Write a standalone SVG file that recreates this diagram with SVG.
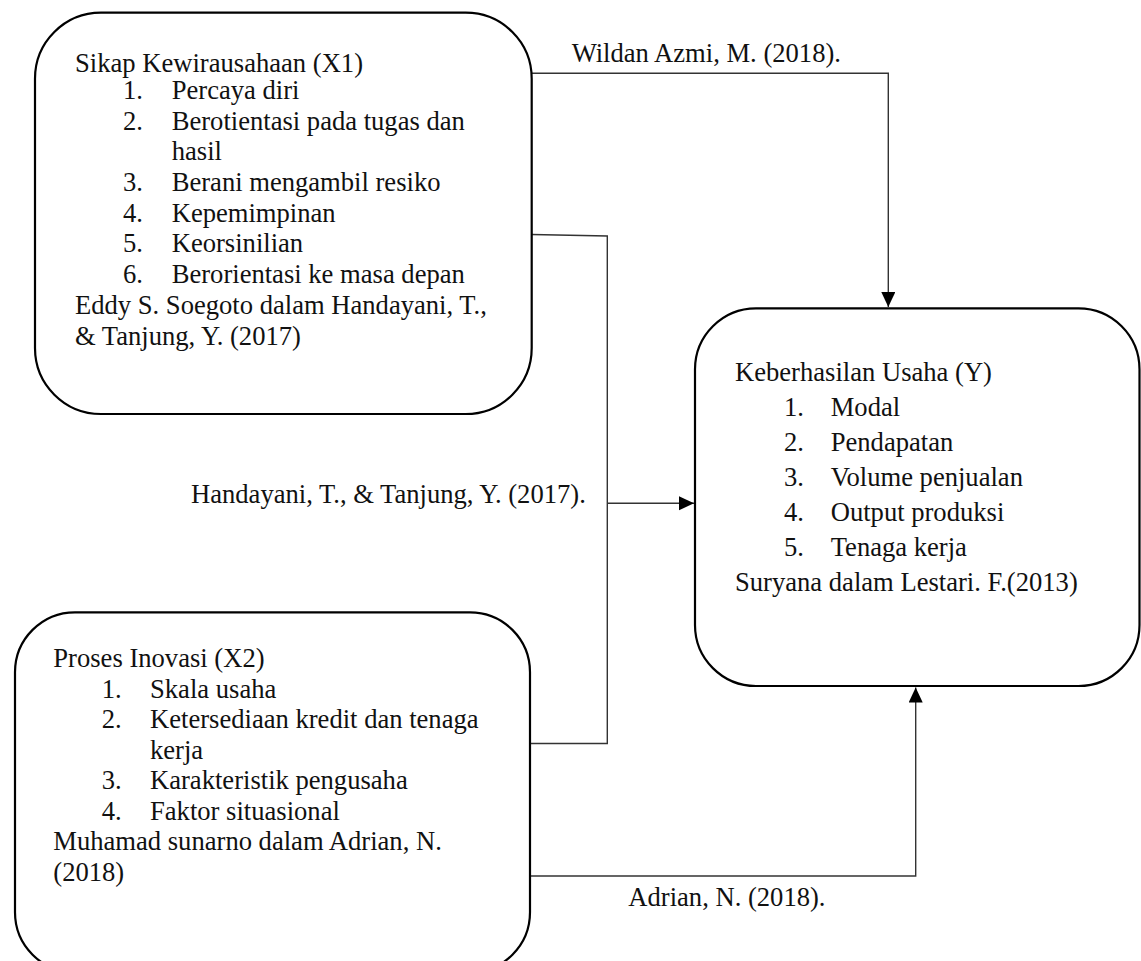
<svg xmlns="http://www.w3.org/2000/svg" width="1141" height="961" viewBox="0 0 1141 961">
<style>
  .box { fill: #ffffff; stroke: #000000; stroke-width: 2.2; }
  .t { font-family: "Liberation Serif", "Times New Roman", serif; font-size: 26.6px; fill: #111111; }
  .conn { fill: none; stroke: #333333; stroke-width: 1.4; }
</style>
<defs>
  <marker id="arr" markerUnits="userSpaceOnUse" markerWidth="16" markerHeight="15" refX="15" refY="7" orient="auto">
    <path d="M0,0 L15,7 L0,14 Z" fill="#000000"/>
  </marker>
</defs>
<rect x="0" y="0" width="1141" height="961" fill="#ffffff"/>

<g id="connectors">
  <path class="conn" d="M531.7,73.3 H888.3 V307" marker-end="url(#arr)"/>
  <path class="conn" d="M531.7,234.5 L607.3,236 V743.5 H530"/>
  <path class="conn" d="M607.3,503.3 H694" marker-end="url(#arr)"/>
  <path class="conn" d="M530,876 H915.7 V687.5" marker-end="url(#arr)"/>
  <text class="t" x="571.7" y="61.7">Wildan Azmi, M. (2018).</text>
  <text class="t" x="191" y="503">Handayani, T., &amp; Tanjung, Y. (2017).</text>
  <text class="t" x="628.3" y="905.7">Adrian, N. (2018).</text>
</g>

<g id="node-x1">
  <rect class="box" x="35" y="12.7" width="496.7" height="401.3" rx="66" ry="66"/>
  <text class="t" x="75" y="72">Sikap Kewirausahaan (X1)</text>
  <text class="t" x="123" y="99">1.</text><text class="t" x="171.7" y="99">Percaya diri</text>
  <text class="t" x="123" y="129.6">2.</text><text class="t" x="171.7" y="129.6">Berotientasi pada tugas dan</text>
  <text class="t" x="171.7" y="160.3">hasil</text>
  <text class="t" x="123" y="191">3.</text><text class="t" x="171.7" y="191">Berani mengambil resiko</text>
  <text class="t" x="123" y="221.7">4.</text><text class="t" x="171.7" y="221.7">Kepemimpinan</text>
  <text class="t" x="123" y="252.4">5.</text><text class="t" x="171.7" y="252.4">Keorsinilian</text>
  <text class="t" x="123" y="283.1">6.</text><text class="t" x="171.7" y="283.1">Berorientasi ke masa depan</text>
  <text class="t" x="75" y="313.8">Eddy S. Soegoto dalam Handayani, T.,</text>
  <text class="t" x="75" y="344.5">&amp; Tanjung, Y. (2017)</text>
</g>

<g id="node-x2">
  <rect class="box" x="15" y="612.3" width="515" height="360" rx="60" ry="60"/>
  <text class="t" x="53.3" y="667">Proses Inovasi (X2)</text>
  <text class="t" x="101.7" y="697.5">1.</text><text class="t" x="150" y="697.5">Skala usaha</text>
  <text class="t" x="101.7" y="728">2.</text><text class="t" x="150" y="728">Ketersediaan kredit dan tenaga</text>
  <text class="t" x="150" y="758.5">kerja</text>
  <text class="t" x="101.7" y="789">3.</text><text class="t" x="150" y="789">Karakteristik pengusaha</text>
  <text class="t" x="101.7" y="819.5">4.</text><text class="t" x="150" y="819.5">Faktor situasional</text>
  <text class="t" x="53.3" y="850">Muhamad sunarno dalam Adrian, N.</text>
  <text class="t" x="53.3" y="880.5">(2018)</text>
</g>

<g id="node-y">
  <rect class="box" x="695" y="308.3" width="444.5" height="377.7" rx="61" ry="61"/>
  <text class="t" x="735" y="380.7">Keberhasilan Usaha (Y)</text>
  <text class="t" x="784" y="416">1.</text><text class="t" x="830.7" y="416">Modal</text>
  <text class="t" x="784" y="451">2.</text><text class="t" x="830.7" y="451">Pendapatan</text>
  <text class="t" x="784" y="486">3.</text><text class="t" x="830.7" y="486">Volume penjualan</text>
  <text class="t" x="784" y="521">4.</text><text class="t" x="830.7" y="521">Output produksi</text>
  <text class="t" x="784" y="556">5.</text><text class="t" x="830.7" y="556">Tenaga kerja</text>
  <text class="t" x="735" y="591">Suryana dalam Lestari. F.(2013)</text>
</g>
</svg>
